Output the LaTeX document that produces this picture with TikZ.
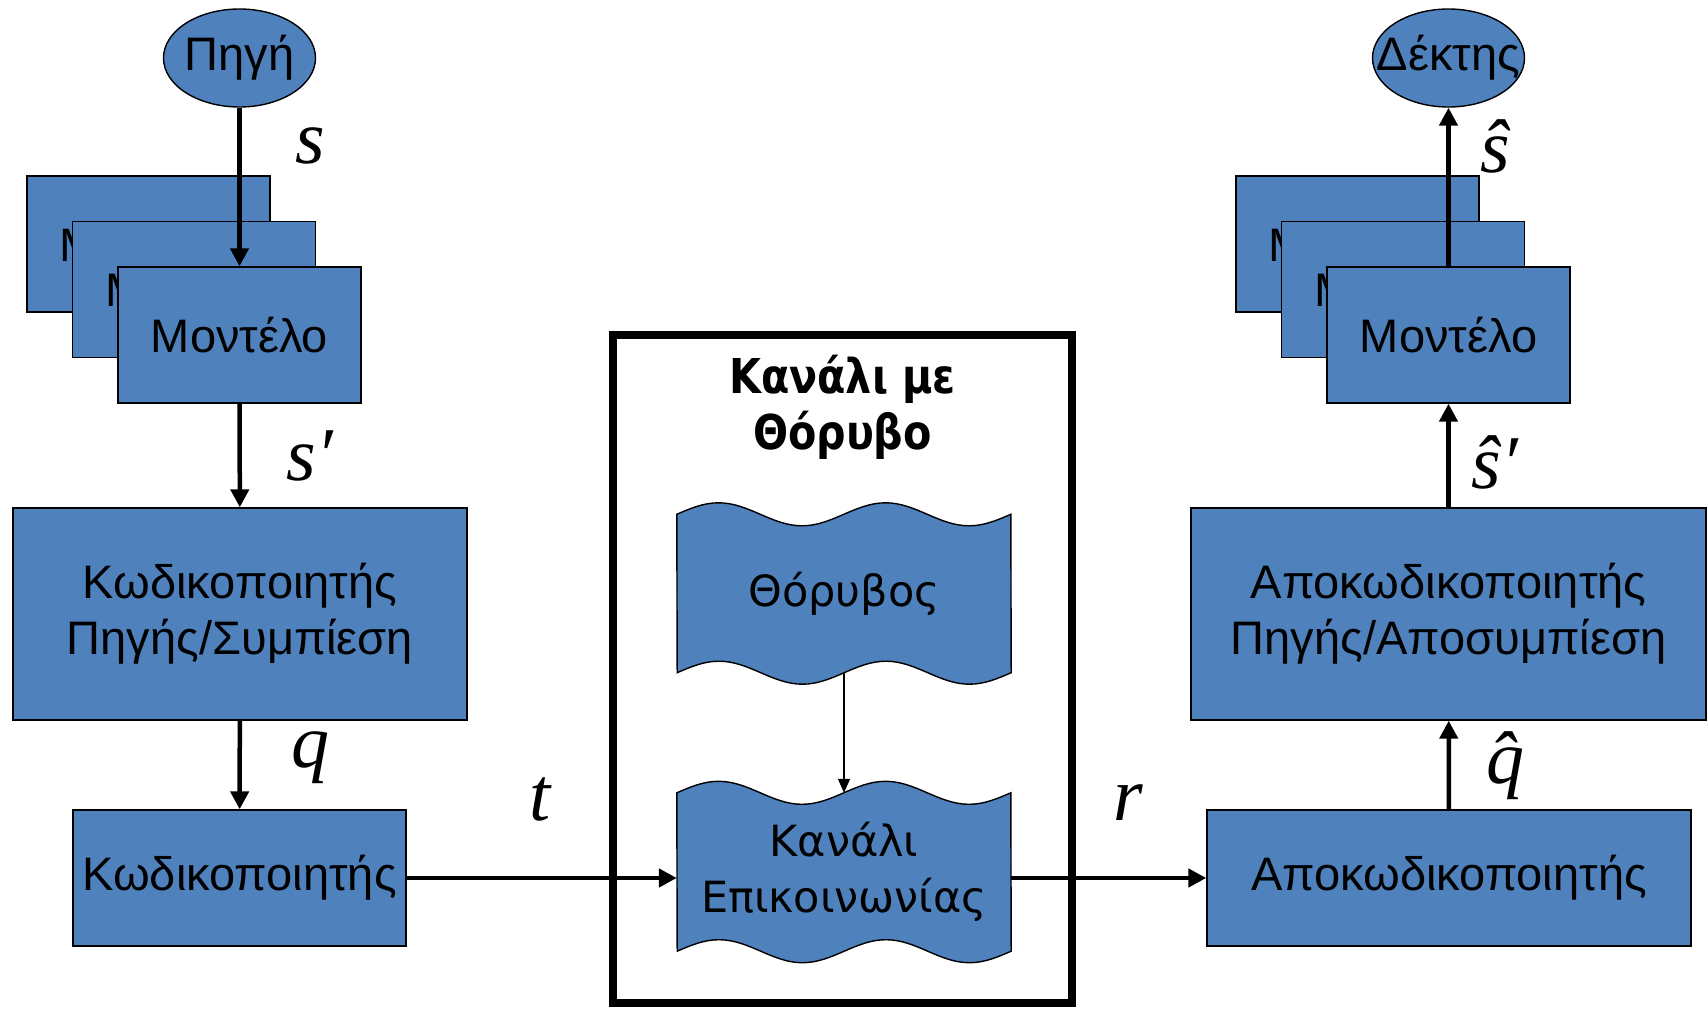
\documentclass[tikz,border=0pt]{standalone}
\usepackage{fontspec}
\setmainfont{Liberation Sans}
\newfontfamily\wavefont{DejaVu Sans}
\newfontfamily\titlefont[FakeStretch=0.86]{DejaVu Sans}
\newfontfamily\symfont{Liberation Serif}
\usetikzlibrary{shapes.geometric,arrows.meta,backgrounds}
\definecolor{boxblue}{HTML}{4F81BD}

% wavy (punched tape) outline round a node
\newcommand\tapeshape[1]{%
  \path[tape] (#1.north west)
    sin ++(41.75,-11.5) cos ++(41.75,11.5) sin ++(41.75,11.5) cos ++(41.75,-11.5)
    sin ++(41.75,-11.5) cos ++(41.75,11.5) sin ++(41.75,11.5) cos ++(41.75,-11.5)
    -- (#1.south east)
    sin ++(-41.75,11.5) cos ++(-41.75,-11.5) sin ++(-41.75,-11.5) cos ++(-41.75,11.5)
    sin ++(-41.75,11.5) cos ++(-41.75,-11.5) sin ++(-41.75,-11.5) cos ++(-41.75,11.5)
    -- cycle;}

\begin{document}
\begin{tikzpicture}[x=1pt, y=-1pt,
  every node/.style = {inner sep=0pt, align=center},
  block/.style = {shape=rectangle, draw, line width=1.4pt, fill=boxblue,
    font=\fontsize{47}{56}\selectfont},
  model/.style = {block, minimum width=243, minimum height=136},
  endpoint/.style = {shape=ellipse, draw, line width=1.4pt, fill=boxblue,
    minimum width=152, minimum height=98, font=\fontsize{47}{56}\selectfont},
  tape/.style = {draw, line width=1.4pt, fill=boxblue},
  tapetext/.style = {minimum width=334, minimum height=158,
    font=\wavefont\fontsize{43}{56}\selectfont},
  sym/.style = {anchor=base, font=\symfont\itshape\fontsize{76}{76}\selectfont},
  flow/.style = {line width=4.5pt, -{Triangle[width=18pt, length=18pt]}},
  noiseflow/.style = {line width=1.5pt, -{Triangle[width=12pt, length=14pt]}}]
  \useasboundingbox (0,0) rectangle (1708,1009);

  % transmitter side
  \node[endpoint] (src) at (239.5,58) {\makebox[0pt]{\raisebox{-3pt}{Πηγή}}};
  \foreach \d in {2,1,0}
    \node[model] (lmodel\d) at (239.5-45.5*\d, 335-45.5*\d) {Μοντέλο};
  \node[block, minimum width=454, minimum height=212] (srcenc) at (240,614)
    {Κωδικοποιητής\\Πηγής/Συμπίεση};
  \node[block, minimum width=333, minimum height=136] (chenc) at (239.5,878)
    {Κωδικοποιητής};

  % noisy channel
  \node[draw, line width=7.5pt, minimum width=459, minimum height=668] (noisy)
    at (842.5,669) {};
  \node[font=\titlefont\bfseries\fontsize{48}{56}\selectfont] (title)
    at (842.5,407) {Κανάλι με\\Θόρυβο};
  \node[tapetext] (noise) at (844,593.5) {\raisebox{-5pt}{Θόρυβος}};
  \node[tapetext] (chan) at (844,872) {Κανάλι\\Επικοινωνίας};
  \begin{pgfonlayer}{background}
    \tapeshape{noise}
    \tapeshape{chan}
  \end{pgfonlayer}

  % receiver side
  \node[block, minimum width=484, minimum height=136] (chdec) at (1449,878)
    {Αποκωδικοποιητής};
  \node[block, minimum width=515, minimum height=212] (srcdec) at (1448.5,614)
    {Αποκωδικοποιητής\\Πηγής/Αποσυμπίεση};
  \foreach \d in {2,1,0}
    \node[model] (rmodel\d) at (1448.5-45.5*\d, 335-45.5*\d) {Μοντέλο};
  \node[endpoint] (sink) at (1448.5,58) {\makebox[0pt]{\raisebox{-3pt}{Δέκτης}}};

  % connectors
  \draw[flow] (src) -- (lmodel0);
  \draw[flow] (lmodel0) -- (srcenc);
  \draw[flow] (srcenc) -- (chenc);
  \draw[flow] (chenc) -- (chenc -| chan.west);
  \draw[noiseflow] (noise) -- (chan);
  \draw[flow] (chenc -| chan.east) -- (chdec);
  \draw[flow] (chdec) -- (srcdec);
  \draw[flow] (srcdec) -- (rmodel0);
  \draw[flow] (rmodel0) -- (sink);

  % signal names
  \node[sym] (ls) at (310,163) {s};
  \node[sym] (lsp) at (310,480) {s′};
  \node[sym] (lq) at (310,767) {q};
  \node[sym] (lt) at (540,820) {t};
  \node[sym] (lr) at (1128,820) {r};
  \node[sym] (lqh) at (1505,783) {q̂};
  \node[sym] (lsph) at (1495,488) {ŝ′};
  \node[sym] (lsh) at (1495,172) {ŝ};
\end{tikzpicture}
\end{document}
